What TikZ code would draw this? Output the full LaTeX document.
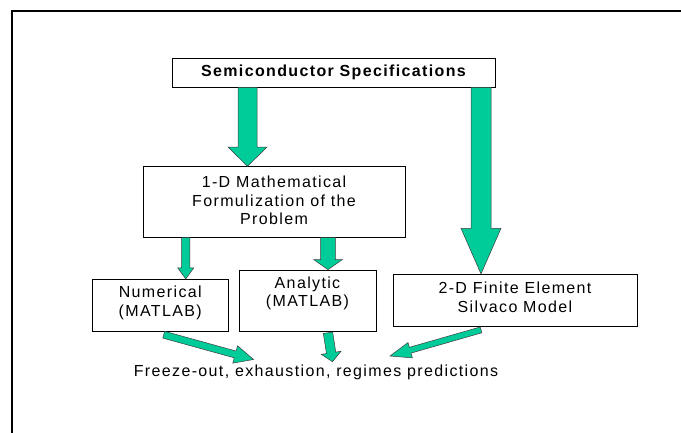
\documentclass[tikz,border=0pt]{standalone}
\usepackage{fontspec}
\setmainfont{Liberation Sans}[LetterSpace=8.5]
\usetikzlibrary{calc}
\definecolor{arrgreen}{RGB}{0,204,153}
\definecolor{arredge}{RGB}{60,60,60}
\tikzset{
  boxnode/.style={draw=black, line width=0.8pt, fill=white, rectangle, inner sep=0pt},
  txt/.style={inner sep=0pt, align=center, font=\fontsize{16}{18.6}\selectfont},
  barrow/.style={fill=arrgreen, draw=arredge, line width=0.5pt, line join=miter},
}
% #1 start, #2 tip, #3 shaft half width, #4 head half width, #5 head length
\newcommand\blockarr[5]{%
  \coordinate (tmpH) at ($(#2)!#5!(#1)$);
  \draw[barrow] ($(#1)!#3!90:(#2)$) -- ($(tmpH)!#3!90:(#2)$) -- ($(tmpH)!#4!90:(#2)$)
    -- (#2) -- ($(tmpH)!#4!-90:(#2)$) -- ($(tmpH)!#3!-90:(#2)$) -- ($(#1)!#3!-90:(#2)$) -- cycle;
}
\begin{document}
\begin{tikzpicture}[x=1pt,y=-1pt]
\useasboundingbox (0,0) rectangle (681,432);
\fill[white] (0,0) rectangle (681,432);
% frame
\draw[line width=2pt, line cap=rect] (12,450) -- (12,11) -- (700,11);

% boxes
\node[boxnode, minimum width=323pt, minimum height=29pt] (spec) at (333.5,72.5) {};
\node[boxnode, minimum width=262pt, minimum height=70.6pt] (math) at (274,202) {};
\node[boxnode, minimum width=136.5pt, minimum height=52pt] (num) at (160.25,305.3) {};
\node[boxnode, minimum width=137pt, minimum height=61.3pt] (ana) at (307.5,300.7) {};
\node[boxnode, minimum width=244pt, minimum height=52.2pt] (fe) at (515,300.4) {};

% texts
\node[txt, font=\fontsize{16}{18.6}\selectfont\bfseries] (spect) at (333.5,72) {Semiconductor Specifications};
\node[txt] (matht) at (274,200.5) {1-D Mathematical\\Formulization of the\\Problem};
\node[txt] (numt) at (160.25,303) {Numerical\\(MATLAB)};
\node[txt] (anat) at (307.5,293.5) {Analytic\\(MATLAB)};
\node[txt] (fet) at (515,297.5) {2-D Finite Element\\Silvaco Model};
\node[txt] (out) at (316,372) {Freeze-out, exhaustion, regimes predictions};

% connector end points
\coordinate (a1s) at ([xshift=-86pt]spec.south);
\coordinate (a1e) at ([xshift=-26.5pt]math.north);
\coordinate (a2s) at ([xshift=147.5pt]spec.south);
\coordinate (a2e) at ([xshift=-34pt]fe.north);
\coordinate (a3s) at ([xshift=-88.3pt]math.south);
\coordinate (a3e) at ([xshift=25.5pt]num.north);
\coordinate (a4s) at ([xshift=54pt]math.south);
\coordinate (a4e) at ([xshift=20.5pt]ana.north);
\coordinate (a5s) at ([xshift=3.5pt,yshift=-3pt]num.south);
\coordinate (a5e) at ([xshift=-62.5pt,yshift=12.5pt]out.center);
\coordinate (a6s) at ([xshift=20.5pt,yshift=-1pt]ana.south);
\coordinate (a6e) at ([xshift=16.5pt,yshift=10.3pt]out.center);
\coordinate (a7s) at ([xshift=-34pt,yshift=-3pt]fe.south);
\coordinate (a7e) at ([xshift=74pt,yshift=16pt]out.center);

\blockarr{a1s}{a1e}{9.5pt}{19.5pt}{19.3pt}
\blockarr{a2s}{a2e}{10pt}{20pt}{45.6pt}
\blockarr{a3s}{a3e}{4.1pt}{8pt}{11pt}
\blockarr{a4s}{a4e}{7.4pt}{14.2pt}{10pt}
\blockarr{a5s}{a5e}{3.5pt}{9pt}{19pt}
\blockarr{a6s}{a6e}{4.7pt}{10pt}{9pt}
\blockarr{a7s}{a7e}{3pt}{8pt}{21pt}
\end{tikzpicture}
\end{document}
